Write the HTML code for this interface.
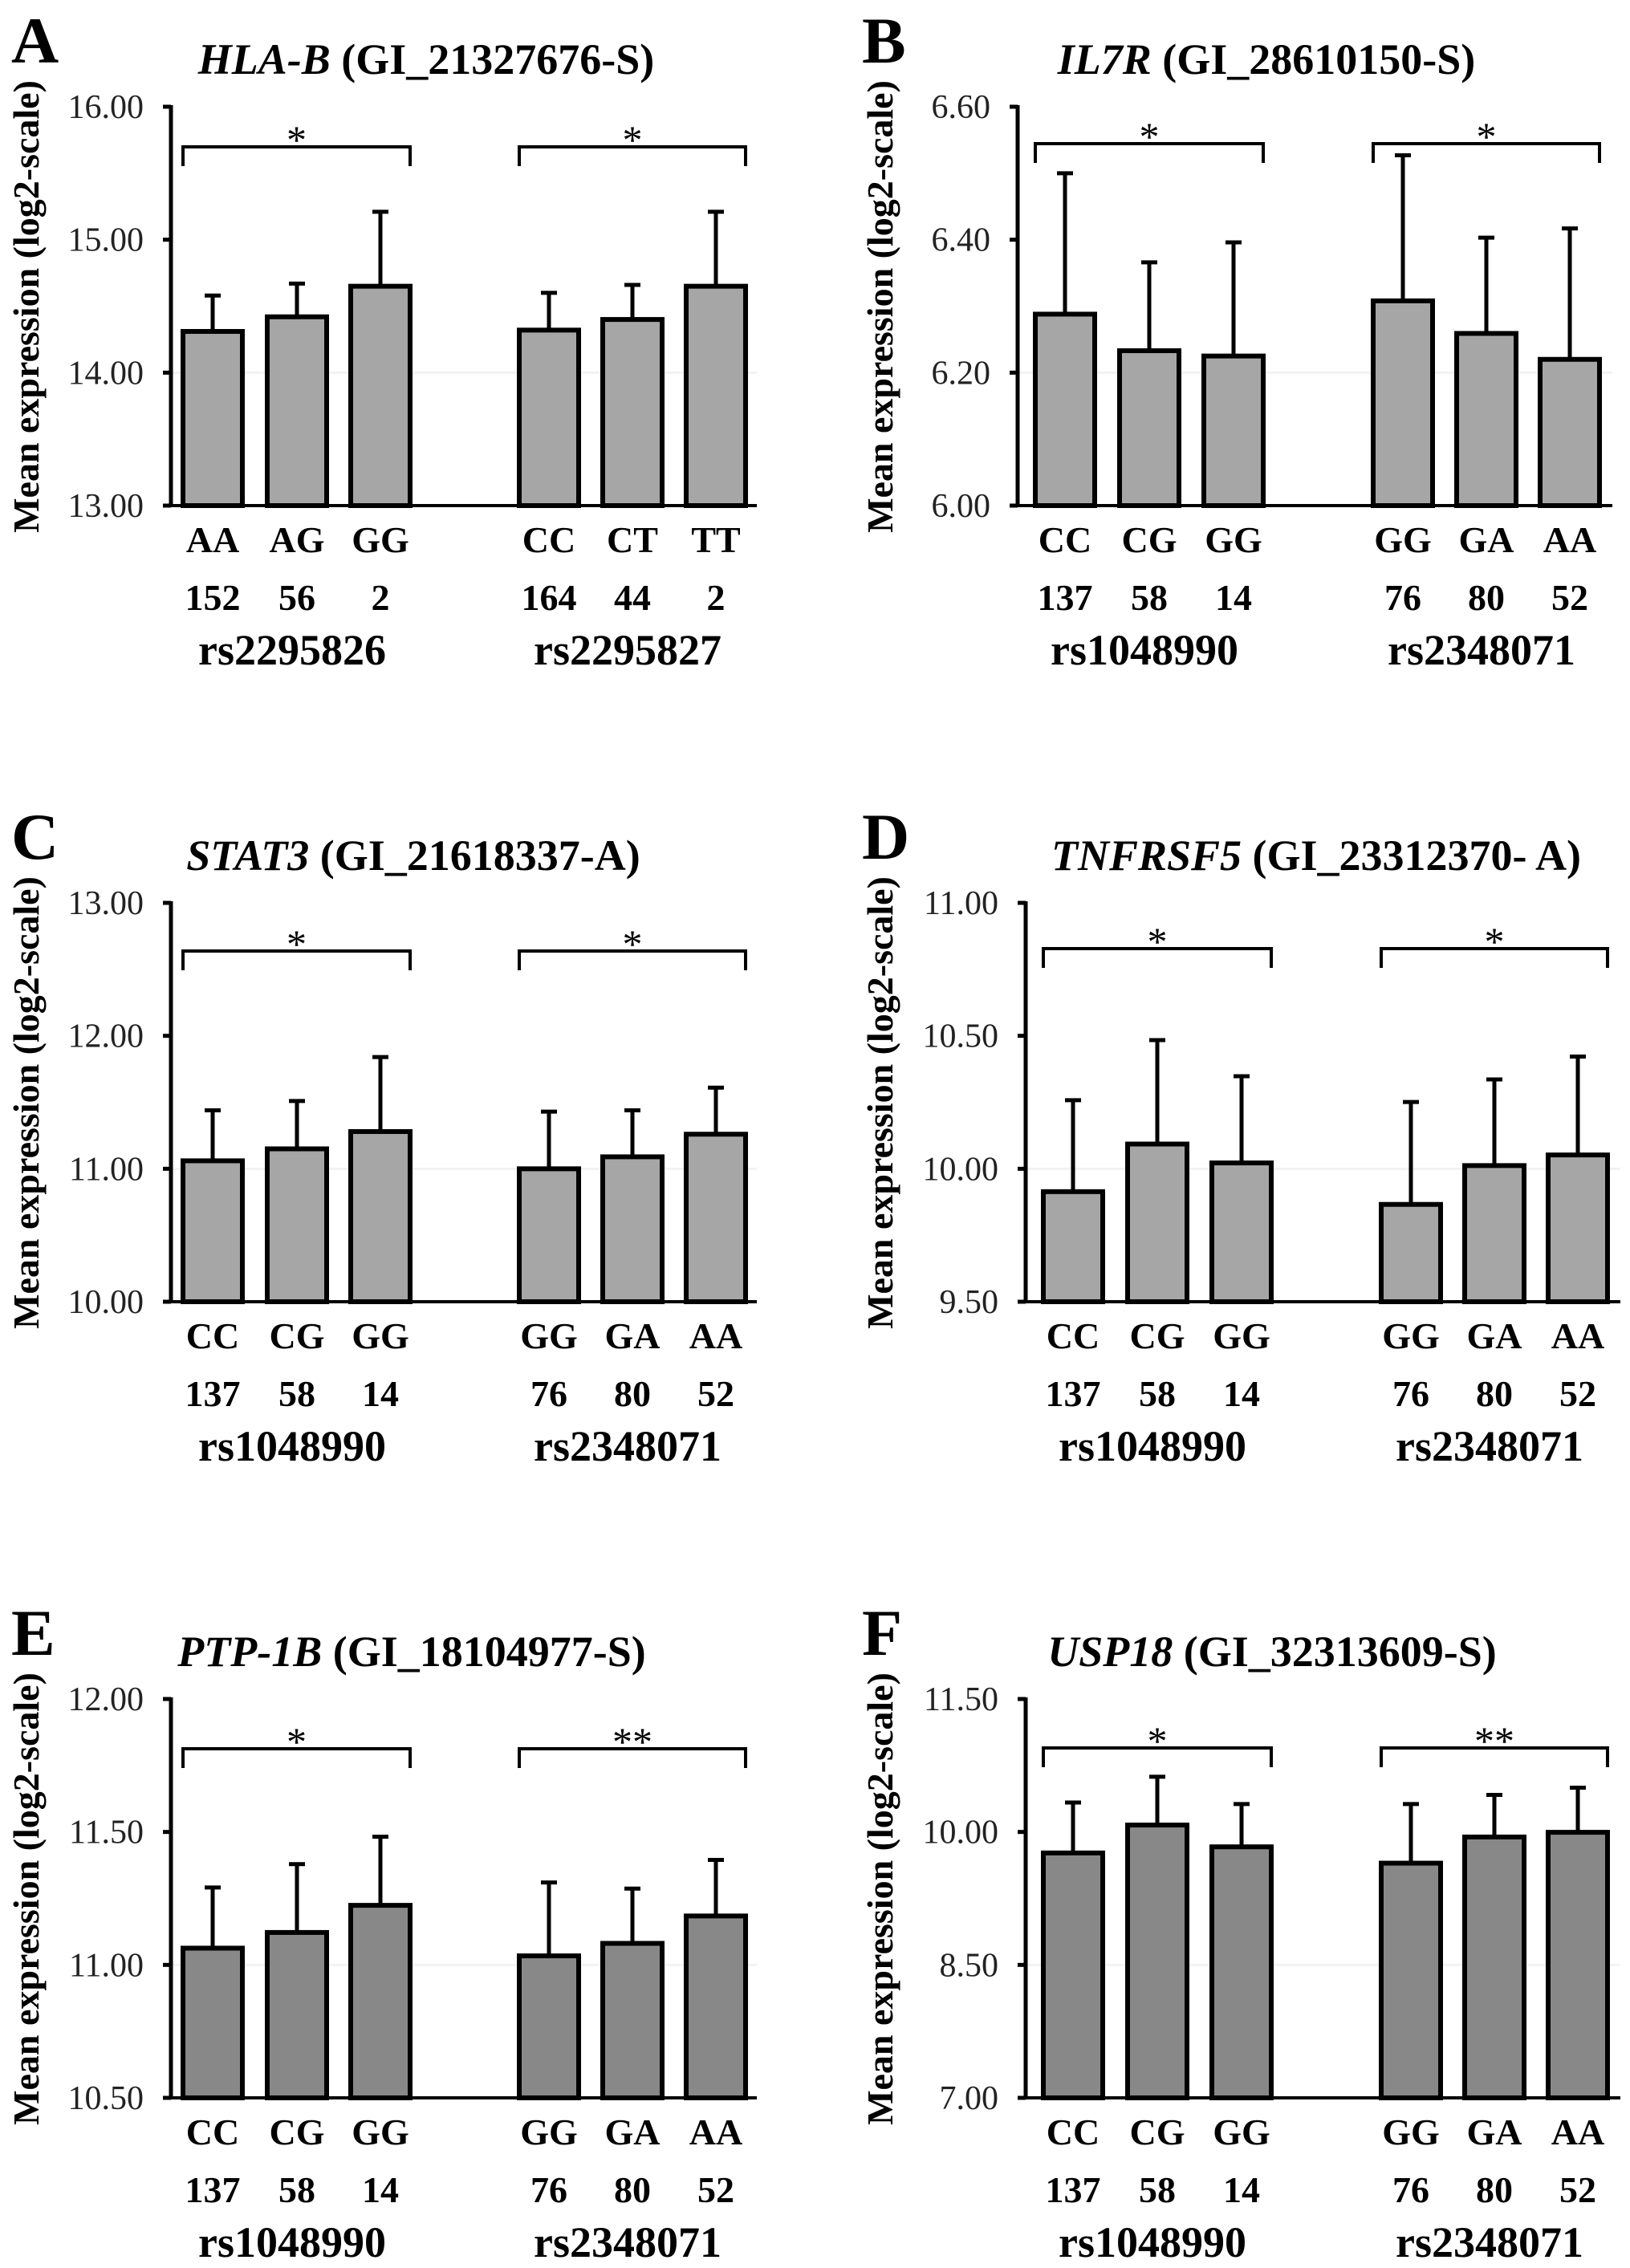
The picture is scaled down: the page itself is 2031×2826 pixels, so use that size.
<!DOCTYPE html>
<html><head><meta charset="utf-8">
<style>
html,body{margin:0;padding:0;background:#fff;}
svg{display:block;font-family:"Liberation Serif",serif;}
</style></head>
<body>
<svg id="fig" width="2031" height="2826" viewBox="0 0 2031 2826" xmlns="http://www.w3.org/2000/svg"></svg>
<script>
// ---------- data ----------
const aGenotypes = ["AA","AG","GG","CC","CT","TT"];
const aCounts = ["152","56","2","164","44","2"];
const aSnps = ["rs2295826","rs2295827"];
const aMeans = [14.31,14.42,14.65,14.32,14.40,14.65];
const aUpper = [14.58,14.67,15.21,14.60,14.66,15.21];
const aTicks = [13,14,15,16];
const aTickLabels = ["13.00","14.00","15.00","16.00"];

const bcdefGenotypes = ["CC","CG","GG","GG","GA","AA"];
const bcdefCounts = ["137","58","14","76","80","52"];
const bcdefSnps = ["rs1048990","rs2348071"];

const bMeans = [6.288,6.233,6.225,6.308,6.259,6.220];
const bUpper = [6.500,6.366,6.396,6.527,6.403,6.417];
const bTicks = [6.0,6.2,6.4,6.6];
const bTickLabels = ["6.00","6.20","6.40","6.60"];

const cMeans = [11.06,11.15,11.28,11.00,11.09,11.26];
const cUpper = [11.44,11.51,11.84,11.43,11.44,11.61];
const cTicks = [10,11,12,13];
const cTickLabels = ["10.00","11.00","12.00","13.00"];

const dMeans = [9.914,10.093,10.022,9.866,10.012,10.052];
const dUpper = [10.258,10.484,10.348,10.251,10.336,10.422];
const dTicks = [9.5,10.0,10.5,11.0];
const dTickLabels = ["9.50","10.00","10.50","11.00"];

const eMeans = [11.063,11.122,11.224,11.034,11.081,11.184];
const eUpper = [11.291,11.379,11.482,11.310,11.287,11.395];
const eTicks = [10.5,11.0,11.5,12.0];
const eTickLabels = ["10.50","11.00","11.50","12.00"];

const fMeans = [9.763,10.078,9.832,9.648,9.943,9.996];
const fUpper = [10.332,10.623,10.315,10.315,10.418,10.499];
const fTicks = [7.0,8.5,10.0,11.5];
const fTickLabels = ["7.00","8.50","10.00","11.50"];

const sigMarks = [["*","*"],["*","*"],["*","*"],["*","*"],["*","**"],["*","**"]];

// ---------- layout ----------
const NS="http://www.w3.org/2000/svg";
const svg=document.getElementById("fig");
function mk(tag,attrs,parent){const e=document.createElementNS(NS,tag);for(const k in attrs)e.setAttribute(k,attrs[k]);(parent||svg).appendChild(e);return e;}

const panels=[
 {L:"A",gene:"HLA-B",gi:" (GI_21327676-S)",g:aGenotypes,c:aCounts,s:aSnps,m:aMeans,u:aUpper,t:aTicks,tl:aTickLabels,col:0,row:0,fill:"#a6a6a6",br:50,tc:531},
 {L:"B",gene:"IL7R",gi:" (GI_28610150-S)",g:bcdefGenotypes,c:bcdefCounts,s:bcdefSnps,m:bMeans,u:bUpper,t:bTicks,tl:bTickLabels,col:1,row:0,fill:"#a6a6a6",br:46,tc:1578,ax:1268},
 {L:"C",gene:"STAT3",gi:" (GI_21618337-A)",g:bcdefGenotypes,c:bcdefCounts,s:bcdefSnps,m:cMeans,u:cUpper,t:cTicks,tl:cTickLabels,col:0,row:1,fill:"#a6a6a6",br:60,tc:515},
 {L:"D",gene:"TNFRSF5",gi:" (GI_23312370- A)",g:bcdefGenotypes,c:bcdefCounts,s:bcdefSnps,m:dMeans,u:dUpper,t:dTicks,tl:dTickLabels,col:1,row:1,fill:"#a6a6a6",br:57,tc:1640},
 {L:"E",gene:"PTP-1B",gi:" (GI_18104977-S)",g:bcdefGenotypes,c:bcdefCounts,s:bcdefSnps,m:eMeans,u:eUpper,t:eTicks,tl:eTickLabels,col:0,row:2,fill:"#888888",br:62,tc:513},
 {L:"F",gene:"USP18",gi:" (GI_32313609-S)",g:bcdefGenotypes,c:bcdefCounts,s:bcdefSnps,m:fMeans,u:fUpper,t:fTicks,tl:fTickLabels,col:1,row:2,fill:"#888888",br:61,tc:1585}
];

panels.forEach((p,pi)=>{
  const dy=p.row*992;
  const axX = p.ax || (p.col===0?213:1278);
  const offs = p.col===0?[15,120,224,434,538,642]:[22,127,232,443,547,651];
  const axLen = p.col===0?730:741;
  const barW=74;
  const top=133+dy, base=630+dy;
  const tmin=p.t[0], tmax=p.t[p.t.length-1];
  const y=v=>base-(v-tmin)/(tmax-tmin)*(base-top);
  const g=mk("g",{});
  
  

  const letter=mk("text",{x:(p.col===0?14:1074),y:78+dy,"font-size":82,"font-weight":"bold"},g);
  letter.textContent=p.L;
  
  

  const title=mk("text",{x:p.tc,y:92+dy,"font-size":54,"font-weight":"bold","text-anchor":"middle"},g);
  
  
  const ts1=mk("tspan",{"font-style":"italic"},title); ts1.textContent=p.gene;
  const ts2=mk("tspan",{},title); ts2.textContent=p.gi;

  const yx=(p.col===0?48:1112), yc=382+dy;
  const yt=mk("text",{x:yx,y:yc,"font-size":46,"font-weight":"bold","text-anchor":"middle",transform:`rotate(-90 ${yx} ${yc})`},g);
  yt.textContent="Mean expression (log2-scale)";
  
  

  const gl=mk("line",{x1:axX,x2:axX+axLen,y1:y(p.t[1]),y2:y(p.t[1]),stroke:"#f2f2f2","stroke-width":3},g);
  
  

  p.t.forEach((tv,i)=>{
    const tk=mk("line",{x1:axX-10,x2:axX,y1:y(tv),y2:y(tv),stroke:"#000","stroke-width":5},g);
    
    
    const tl=mk("text",{x:axX-34,y:y(tv)+14,"font-size":42,"text-anchor":"end",fill:"#222"},g);
    tl.textContent=p.tl[i];
    
    
  });

  p.m.forEach((mv,i)=>{
    const bx=axX+offs[i];
    const cx=bx+barW/2;
    const el=mk("line",{x1:cx,x2:cx,y1:y(p.u[i]),y2:y(mv),stroke:"#000","stroke-width":5},g);
    
    
    const cap=mk("line",{x1:cx-10,x2:cx+10,y1:y(p.u[i]),y2:y(p.u[i]),stroke:"#000","stroke-width":5},g);
    
    
    const r=mk("rect",{x:bx,y:y(mv),width:barW,height:base-y(mv),fill:p.fill,stroke:"#000","stroke-width":6},g);
    
    
    const gt=mk("text",{x:cx,y:688+dy,"font-size":46,"font-weight":"bold","text-anchor":"middle"},g);
    gt.textContent=p.g[i];
    
    
    const ct=mk("text",{x:cx,y:760+dy,"font-size":46,"font-weight":"bold","text-anchor":"middle"},g);
    ct.textContent=p.c[i];
    
    
  });

  const ya=mk("line",{x1:axX,x2:axX,y1:top-2,y2:base+2,stroke:"#000","stroke-width":5},g);
  
  
  const xa=mk("line",{x1:axX-10,x2:axX+axLen,y1:base,y2:base,stroke:"#000","stroke-width":4},g);
  
  

  [0,1].forEach(k=>{
    const x1=axX+offs[k*3], x2=axX+offs[k*3+2]+barW;
    const mid=axX+offs[k*3+1]+barW/2;
    const st=mk("text",{x:mid-6,y:828+dy,"font-size":54,"font-weight":"bold","text-anchor":"middle"},g);
    st.textContent=p.s[k];
    
    
    const by=top+p.br;
    const br=mk("path",{d:`M${x1} ${by+24} V${by} H${x2} V${by+24}`,fill:"none",stroke:"#000","stroke-width":4},g);
    
    
    const as=mk("text",{x:(x1+x2)/2,y:by+8,"font-size":50,"text-anchor":"middle"},g);
    as.textContent=sigMarks[pi][k];
    
    
  });
});
</script>
</body></html>
